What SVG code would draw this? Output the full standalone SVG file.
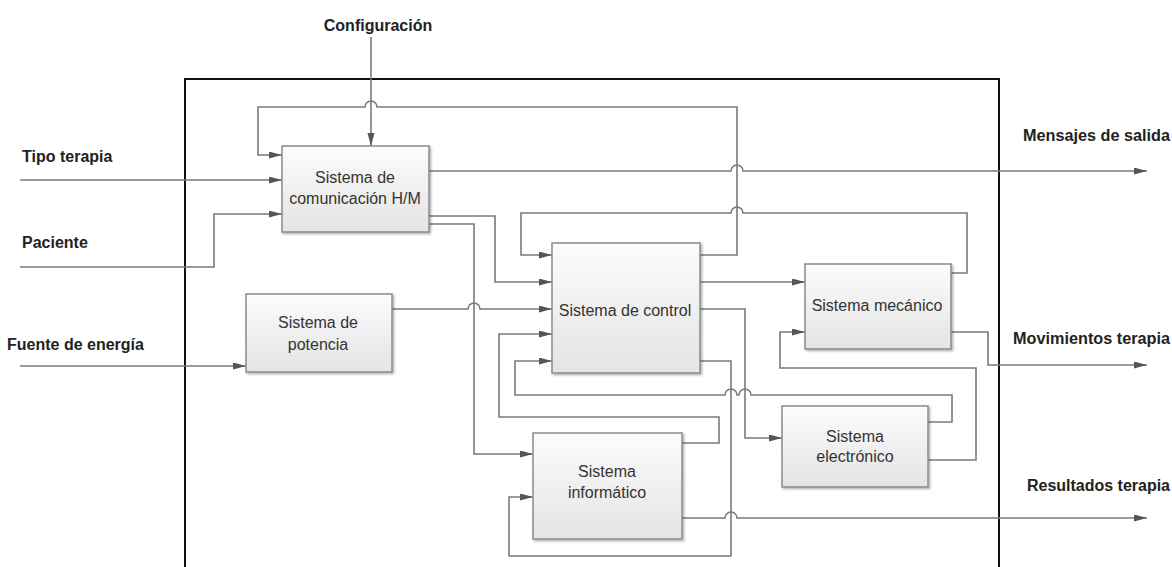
<svg xmlns="http://www.w3.org/2000/svg" width="1172" height="567" viewBox="0 0 1172 567">
  <style>
    .box { fill: url(#boxFill); stroke: #8a8a8a; stroke-width: 1.5; filter: url(#shadow); }
    .btxt { font-family: "Liberation Sans", Arial, sans-serif; font-size: 16px; fill: #333; text-anchor: middle; }
    .lbl { font-family: "Liberation Sans", Arial, sans-serif; font-size: 16px; font-weight: bold; fill: #222; }
    .wire { fill: none; stroke: #7a7a7a; stroke-width: 1.6; }
    .arr { marker-end: url(#head); }
  </style>
  <defs>
    <linearGradient id="boxFill" x1="0" y1="0" x2="0" y2="1">
      <stop offset="0" stop-color="#fcfcfc"/>
      <stop offset="1" stop-color="#e4e4e4"/>
    </linearGradient>
    <filter id="shadow" x="-10%" y="-10%" width="120%" height="120%">
      <feDropShadow dx="1.5" dy="1.5" stdDeviation="1" flood-color="#000" flood-opacity="0.3"/>
    </filter>
    <marker id="head" markerUnits="userSpaceOnUse" markerWidth="14" markerHeight="8" refX="13" refY="3.5" orient="auto">
      <path d="M0,0 L13,3.5 L0,7 z" fill="#555"/>
    </marker>
  </defs>

  <rect width="1172" height="567" fill="#fff"/>

  <!-- system boundary -->
  <rect x="185" y="79" width="814" height="520" fill="none" stroke="#111" stroke-width="2"/>

  <!-- external labels -->
  <text class="lbl" x="378" y="31" text-anchor="middle">Configuración</text>
  <text class="lbl" x="22" y="162">Tipo terapia</text>
  <text class="lbl" x="22" y="248">Paciente</text>
  <text class="lbl" x="7" y="350">Fuente de energía</text>
  <text class="lbl" x="1170" y="141" text-anchor="end" textLength="147" lengthAdjust="spacingAndGlyphs">Mensajes de salida</text>
  <text class="lbl" x="1170" y="344" text-anchor="end" textLength="157" lengthAdjust="spacingAndGlyphs">Movimientos terapia</text>
  <text class="lbl" x="1170" y="491" text-anchor="end" textLength="143" lengthAdjust="spacingAndGlyphs">Resultados terapia</text>

  <g id="connectors">
    <!-- inputs -->
    <path class="wire arr" d="M371,37 V146"/>
    <path class="wire arr" d="M20,180 H282"/>
    <path class="wire arr" d="M20,267 H214 V214 H282"/>
    <path class="wire arr" d="M20,366 H246"/>
    <!-- control feedback to communication -->
    <path class="wire arr" d="M700,255 H737 V107 H377 a6,6 0 0 0 -12,0 H258 V155 H282"/>
    <!-- communication outputs -->
    <path class="wire arr" d="M429,171 H731 a6,6 0 0 1 12,0 H1147"/>
    <path class="wire arr" d="M429,216 H495 V282 H552"/>
    <path class="wire arr" d="M429,224 H474 V454 H533"/>
    <!-- power to control -->
    <path class="wire arr" d="M392,309 H468 a6,6 0 0 1 12,0 H552"/>
    <!-- mechanical feedback to control -->
    <path class="wire arr" d="M951,273 H967 V213 H743 a6,6 0 0 0 -12,0 H521 V255 H552"/>
    <!-- control outputs -->
    <path class="wire arr" d="M700,282 H805"/>
    <path class="wire arr" d="M700,309 H745 V438 H782"/>
    <path class="wire arr" d="M700,361 H731 V556 H509 V497 H533"/>
    <!-- informatics feedback to control -->
    <path class="wire arr" d="M682,443 H719 V417 H499 V334 H552"/>
    <!-- electronics feedback to control -->
    <path class="wire arr" d="M928,422 H952 V395 H751 a6,6 0 0 0 -12,0 H737 a6,6 0 0 0 -12,0 H515 V361 H552"/>
    <!-- electronics to mechanics -->
    <path class="wire arr" d="M928,460 H976 V368 H780 V332 H805"/>
    <!-- system outputs -->
    <path class="wire arr" d="M951,332 H988 V365 H1147"/>
    <path class="wire arr" d="M682,518 H725 a6,6 0 0 1 12,0 H1147"/>
  </g>

  <g id="comunicacion">
    <rect class="box" x="282" y="146" width="147" height="86"/>
    <text class="btxt" x="355" y="183">Sistema de</text>
    <text class="btxt" x="355" y="204">comunicación H/M</text>
  </g>
  <g id="potencia">
    <rect class="box" x="246" y="294" width="146" height="78"/>
    <text class="btxt" x="318" y="328">Sistema de</text>
    <text class="btxt" x="318" y="350">potencia</text>
  </g>
  <g id="control">
    <rect class="box" x="552" y="243" width="148" height="130"/>
    <text class="btxt" x="625" y="316">Sistema de control</text>
  </g>
  <g id="mecanico">
    <rect class="box" x="805" y="264" width="146" height="85"/>
    <text class="btxt" x="877" y="311">Sistema mecánico</text>
  </g>
  <g id="electronico">
    <rect class="box" x="782" y="406" width="146" height="81"/>
    <text class="btxt" x="855" y="442">Sistema</text>
    <text class="btxt" x="855" y="462">electrónico</text>
  </g>
  <g id="informatico">
    <rect class="box" x="533" y="433" width="149" height="106"/>
    <text class="btxt" x="607" y="477">Sistema</text>
    <text class="btxt" x="607" y="498">informático</text>
  </g>
</svg>
